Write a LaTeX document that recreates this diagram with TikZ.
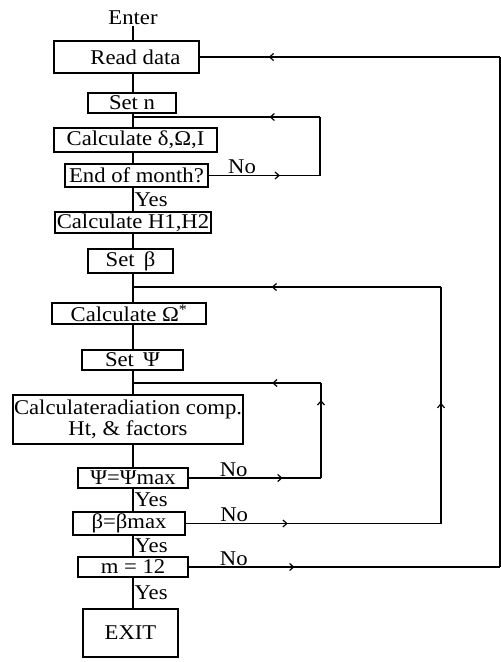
\documentclass[tikz,border=0pt]{standalone}
\usepackage{fontspec}
\setmainfont[FakeStretch=1.08]{Liberation Serif}
\usetikzlibrary{positioning,arrows.meta,decorations.markings}
\tikzset{
  blk/.style    ={draw, rectangle, line width=1.2pt, inner sep=0pt, align=center, font=\fontsize{21}{21}\selectfont},
  lbl/.style    ={inner sep=1pt, font=\fontsize{21}{21}\selectfont},
  wire/.style   ={line width=1.2pt},
  midarr/.style ={postaction={decorate}, decoration={markings,
                  mark=at position #1 with {\arrow{Straight Barb[length=4pt,width=7pt]}}}},
}

\begin{document}
\begin{tikzpicture}[x=1pt,y=-1pt]
  \useasboundingbox (0,0) rectangle (501,662);

  \node[lbl] (enter) at (133,18) {Enter};
  \node[blk, minimum width=145pt, minimum height=32pt] (read)    at (126.5,57)  {\hspace{18pt}Read data};
  \node[blk, minimum width=88pt,  minimum height=20pt] (setn)    at (132,103)   {Set n};
  \node[blk, minimum width=163pt, minimum height=24pt] (calcd)   at (135.5,140) {Calculate δ,Ω,I};
  \node[blk, minimum width=143pt, minimum height=23pt] (eom)     at (136.5,175.5) {End of month?};
  \node[blk, minimum width=156pt, minimum height=21pt] (calch)   at (133,222.5) {Calculate H1,H2};
  \node[blk, minimum width=85pt,  minimum height=24pt] (setb)    at (130.5,261) {Set \,β};
  \node[blk, minimum width=154pt, minimum height=21pt] (calco)   at (129,313.5) {Calculate Ω\textsuperscript{*}};
  \node[blk, minimum width=101pt, minimum height=20pt] (setp)    at (132.5,360) {Set \,Ψ};
  \node[blk, minimum width=230pt, minimum height=49pt] (calcr)   at (128,419.5) {Calculateradiation comp.\\Ht, \& factors};
  \node[blk, minimum width=110pt, minimum height=20pt] (psimax)  at (133,478)   {Ψ=Ψmax};
  \node[blk, minimum width=112pt, minimum height=23pt] (betamax) at (129,523.5) {β=βmax};
  \node[blk, minimum width=110pt, minimum height=20pt] (mtw)     at (133,567)   {m = 12};
  \node[blk, minimum width=95pt,  minimum height=48pt] (exit)    at (130.5,633) {EXIT};

  % main line and joints
  \coordinate (spine) at (133,0);
  \coordinate (j1) at (133,117);
  \coordinate (j2) at (133,287);
  \coordinate (j3) at (133,383);
  \coordinate (r1) at (320,117);
  \coordinate (r2) at (321,383);
  \coordinate (r3) at (441,287);
  \coordinate (r4) at (500,57);

  \draw[wire] (enter.south -| spine) -- (read.north -| spine);
  \draw[wire] (read.south -| spine) -- (setn.north -| spine);
  \draw[wire] (setn.south -| spine) -- (calcd.north -| spine);
  \draw[wire] (calcd.south -| spine) -- (eom.north -| spine);
  \draw[wire] (eom.south -| spine) -- node[lbl, right] {Yes} (calch.north -| spine);
  \draw[wire] (calch.south -| spine) -- (setb.north -| spine);
  \draw[wire] (setb.south -| spine) -- (calco.north -| spine);
  \draw[wire] (calco.south -| spine) -- (setp.north -| spine);
  \draw[wire] (setp.south -| spine) -- (calcr.north -| spine);
  \draw[wire] (calcr.south -| spine) -- (psimax.north -| spine);
  \draw[wire] (psimax.south -| spine) -- node[lbl, right] {Yes} (betamax.north -| spine);
  \draw[wire] (betamax.south -| spine) -- node[lbl, right] {Yes} (mtw.north -| spine);
  \draw[wire] (mtw.south -| spine) -- node[lbl, right] {Yes} (exit.north -| spine);

  % loops back
  \draw[wire, midarr=0.64] (eom.east) -- node[lbl, above, pos=0.3] {No} (eom.east -| r1);
  \draw[wire] (eom.east -| r1) -- (r1);
  \draw[wire, midarr=0.27] (r1) -- (j1);

  \draw[wire, midarr=0.71] (psimax.east) -- node[lbl, above, pos=0.34] {No} (psimax.east -| r2);
  \draw[wire, midarr=0.82] (psimax.east -| r2) -- (r2);
  \draw[wire, midarr=0.26] (r2) -- (j3);

  \draw[wire, midarr=0.40] (betamax.east) -- node[lbl, above, pos=0.19] {No} (betamax.east -| r3);
  \draw[wire, midarr=0.51] (betamax.east -| r3) -- (r3);
  \draw[wire, midarr=0.55] (r3) -- (j2);

  \draw[wire, midarr=0.34] (mtw.east) -- node[lbl, above, pos=0.145] {No} (mtw.east -| r4);
  \draw[wire] (mtw.east -| r4) -- (r4);
  \draw[wire, midarr=0.77] (r4) -- (read.east);
\end{tikzpicture}
\end{document}
